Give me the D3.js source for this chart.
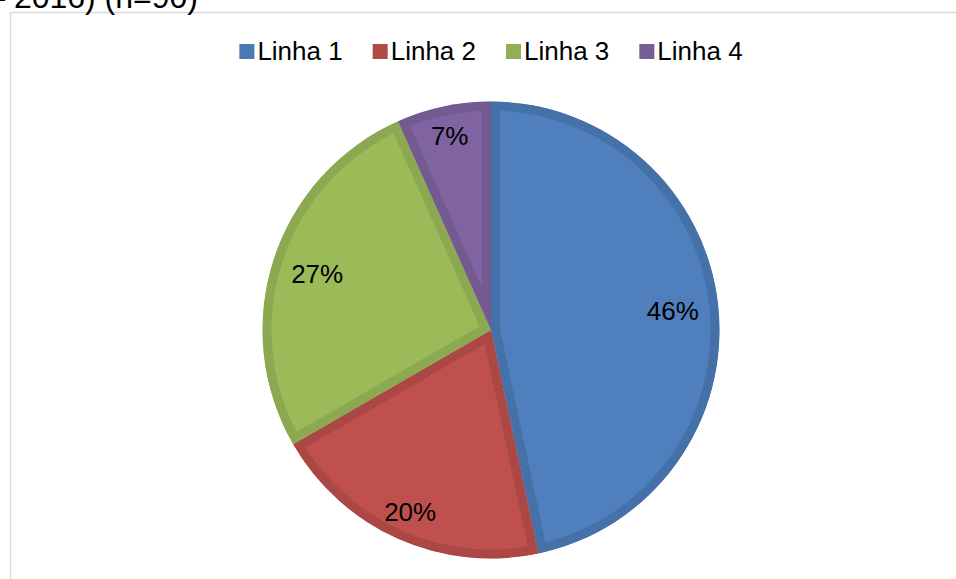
<!DOCTYPE html>
<html>
<head>
<meta charset="utf-8">
<script src="https://cdn.jsdelivr.net/npm/d3@7"></script>
<style>
  html, body { margin: 0; padding: 0; background: #fff; }
  svg { display: block; }
  text { font-family: "Liberation Sans", Arial, sans-serif; }
</style>
</head>
<body>
<svg id="chart" width="956" height="579"></svg>
<script>
// ---- data ----
const categories = ["Linha 1", "Linha 2", "Linha 3", "Linha 4"];
const counts = [42, 18, 24, 6];
const pctLabels = ["46%", "20%", "27%", "7%"];
const titleText = "(2012 – 2016) (n=90)";

// ---- styles ----
const fills   = ["#4F7FBC", "#C0504D", "#9BBB59", "#8064A2"];
const borders = ["#4571A9", "#AB4744", "#8CA850", "#735B92"];
const legendColors = ["#4A78B2", "#B04A47", "#91AF54", "#775D97"];

const svg = d3.select("#chart");
const W = 956, H = 579;

// chart frame
svg.append("rect")
  .attr("x", 10.5).attr("y", 12.5)
  .attr("width", W + 20).attr("height", H + 20)
  .attr("fill", "none").attr("stroke", "#D9D9D9").attr("stroke-width", 1.5);

// title (cut off at the top edge, as in the source)
svg.append("text")
  .attr("x", 198).attr("y", 8)
  .attr("text-anchor", "end")
  .attr("font-size", 32)
  .attr("fill", "#000")
  .text(titleText);

// ---- pie ----
const cx = 491, cy = 330, R = 228.5, borderW = 9;
const pie = d3.pie().sort(null).value(d => d)(counts);
const arc = d3.arc().innerRadius(0).outerRadius(R);
const defs = svg.append("defs");

pie.forEach((p, i) => {
  defs.append("clipPath").attr("id", "clip" + i)
    .append("path").attr("d", arc(p)).attr("transform", `translate(${cx},${cy})`);
});

pie.forEach((p, i) => {
  svg.append("g").attr("clip-path", `url(#clip${i})`)
    .append("path")
    .attr("transform", `translate(${cx},${cy})`)
    .attr("d", arc(p))
    .attr("fill", fills[i])
    .attr("stroke", borders[i])
    .attr("stroke-width", borderW * 2)
    .attr("stroke-linejoin", "miter");
});

// labels
const total = d3.sum(counts);
const labelG = svg.append("g").attr("transform", `translate(${cx},${cy})`);
labelG.selectAll("text")
  .data(pie)
  .join("text")
  .attr("transform", d => {
    const share = d.value / total;
    const r = R * (share < 0.25 ? 0.87 : 0.8);
    const a = (d.startAngle + d.endAngle) / 2;
    return `translate(${r * Math.sin(a)},${-r * Math.cos(a)})`;
  })
  .attr("text-anchor", "middle")
  .attr("dy", "0.35em")
  .attr("font-size", 26)
  .attr("fill", "#000")
  .text((d, i) => pctLabels[i]);

// ---- legend ----
const legendG = svg.append("g");
const sq = 15, gap = 3, itemGap = 30, legendBaseline = 60;
const items = legendG.selectAll("g").data(categories).join("g");
items.append("rect")
  .attr("width", sq).attr("height", sq)
  .attr("y", legendBaseline - 16)
  .attr("fill", (d, i) => legendColors[i]);
items.append("text")
  .attr("x", sq + gap)
  .attr("y", legendBaseline)
  .attr("font-size", 26)
  .attr("fill", "#000")
  .text(d => d);
let widths = [];
items.each(function () { widths.push(this.getBBox().width); });
const totalW = d3.sum(widths) + itemGap * (widths.length - 1);
let x0 = cx - totalW / 2;
items.attr("transform", (d, i) => {
  const t = `translate(${x0},0)`;
  x0 += widths[i] + itemGap;
  return t;
});
</script>
</body>
</html>
